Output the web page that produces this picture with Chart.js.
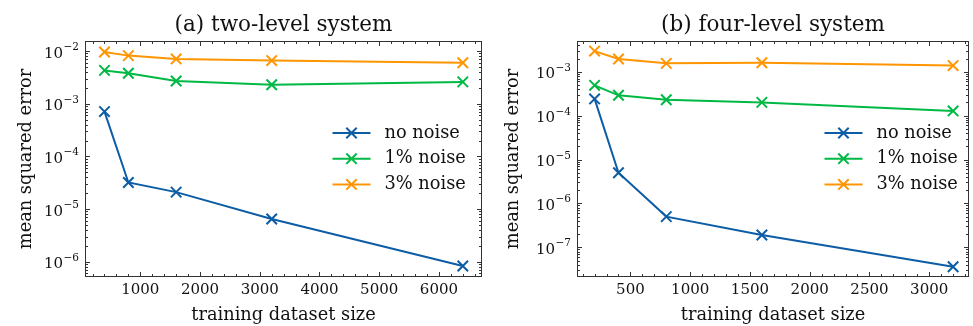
<!DOCTYPE html>
<html>
<head>
<meta charset="utf-8">
<script src="https://cdn.jsdelivr.net/npm/chart.js@4.4.1/dist/chart.umd.min.js"></script>
<style>
body { margin: 0; background: #fff; }
#wrap { position: relative; width: 973px; height: 326px; }
#wrap canvas { position: absolute; top: 0; }
</style>
</head>
<body>
<div id="wrap">
	<canvas id="chartA" width="487" height="326" style="left:0"></canvas>
	<canvas id="chartB" width="486" height="326" style="left:487px"></canvas>
</div>
<script>
/*
 * 数据:两个子图,三条曲线。
 */
var seriesLabels = ['no noise', '1% noise', '3% noise'];
var seriesColors = ['#0C5DA5', '#00B945', '#FF9500'];

var sizesA = [400, 800, 1600, 3200, 6400];
var noNoiseA = [7.1e-4, 3.2e-5, 2.1e-5, 6.5e-6, 8.3e-7];
var noise1A = [4.3e-3, 3.8e-3, 2.7e-3, 2.3e-3, 2.6e-3];
var noise3A = [9.6e-3, 8.2e-3, 7.1e-3, 6.6e-3, 6.0e-3];
var xTicksA = [1000, 2000, 3000, 4000, 5000, 6000];
var yTicksA = [1e-6, 1e-5, 1e-4, 1e-3, 1e-2];
var xLimA = [82, 6713];
var yLimA = [5.25e-7, 1.52e-2];

var sizesB = [200, 400, 800, 1600, 3200];
var noNoiseB = [2.4e-4, 5.0e-6, 5.0e-7, 1.9e-7, 3.6e-8];
var noise1B = [4.9e-4, 2.9e-4, 2.3e-4, 2.0e-4, 1.28e-4];
var noise3B = [2.95e-3, 1.95e-3, 1.55e-3, 1.6e-3, 1.38e-3];
var xTicksB = [500, 1000, 1500, 2000, 2500, 3000];
var yTicksB = [1e-7, 1e-6, 1e-5, 1e-4, 1e-3];
var xLimB = [57, 3329];
var yLimB = [2.16e-8, 4.88e-3];

var FONT = '"DejaVu Serif"';
var INK = '#111';

/*
 * 边框、向内刻度、y 轴标签(上标)以及图例。
 */
var sciFrame = {
	id : 'sciFrame',
	afterDatasetsDraw : function(chart, args, opts) {
		var ctx = chart.ctx, a = chart.chartArea;
		var xs = chart.scales.x, ys = chart.scales.y;
		var majors = xs.ticks.map(function(t) { return t.value; });
		var v, px, py, len, n, k;
		ctx.save();
		ctx.strokeStyle = '#333';
		ctx.lineWidth = 1;
		ctx.strokeRect(a.left, a.top, a.right - a.left, a.bottom - a.top);
		ctx.beginPath();
		for (v = Math.ceil(xs.min / opts.xMinor) * opts.xMinor; v <= xs.max; v += opts.xMinor) {
			px = Math.round(xs.getPixelForValue(v)) + 0.5;
			len = majors.indexOf(v) >= 0 ? 4.5 : 2.5;
			ctx.moveTo(px, a.bottom); ctx.lineTo(px, a.bottom - len);
			ctx.moveTo(px, a.top); ctx.lineTo(px, a.top + len);
		}
		var n0 = Math.floor(Math.log10(ys.min)), n1 = Math.ceil(Math.log10(ys.max));
		for (n = n0; n <= n1; n++) {
			for (k = 1; k < 10; k++) {
				v = k * Math.pow(10, n);
				if (v < ys.min || v > ys.max) continue;
				py = Math.round(ys.getPixelForValue(v)) + 0.5;
				len = k == 1 ? 4.5 : 2.5;
				ctx.moveTo(a.left, py); ctx.lineTo(a.left + len, py);
				ctx.moveTo(a.right, py); ctx.lineTo(a.right - len, py);
			}
		}
		ctx.stroke();

		// y 轴标签 10^n
		ctx.fillStyle = INK;
		ctx.textAlign = 'right';
		ctx.textBaseline = 'alphabetic';
		ys.ticks.forEach(function(t) {
			var y = ys.getPixelForValue(t.value);
			var e = Math.round(Math.log10(t.value));
			var sup = (e < 0 ? '\u2212' : '') + Math.abs(e);
			var xr = a.left - 6.5;
			ctx.font = '10.5px ' + FONT;
			var w = ctx.measureText(sup).width;
			ctx.fillText(sup, xr, y - 1);
			ctx.font = '15px ' + FONT;
			ctx.fillText('10', xr - w - 0.5, y + 6.5);
		});

		// 图例
		ctx.font = '17.8px ' + FONT;
		ctx.textAlign = 'left';
		ctx.textBaseline = 'middle';
		chart.data.datasets.forEach(function(ds, i) {
			var x0 = a.right - opts.legendRight;
			var y = a.top + opts.legendTop + i * 25.7;
			var cx = x0 + 19, r = 5.2;
			ctx.strokeStyle = ds.borderColor;
			ctx.lineWidth = 2;
			ctx.beginPath();
			ctx.moveTo(x0, y); ctx.lineTo(x0 + 38, y);
			ctx.moveTo(cx - r, y - r); ctx.lineTo(cx + r, y + r);
			ctx.moveTo(cx - r, y + r); ctx.lineTo(cx + r, y - r);
			ctx.stroke();
			ctx.fillStyle = INK;
			ctx.fillText(ds.label, x0 + 52, y);
		});
		ctx.restore();
	}
};

function makeChart(id, title, sizes, series, xTicks, yTicks, xLim, yLim, layoutOpts) {
	var datasets = series.map(function(vals, i) {
		return {
			label : seriesLabels[i],
			data : sizes.map(function(x, j) { return { x : x, y : vals[j] }; }),
			borderColor : seriesColors[i],
			backgroundColor : seriesColors[i],
			borderWidth : 2,
			pointStyle : 'crossRot',
			pointRadius : 7.4,
			pointBorderWidth : 2,
			pointBorderColor : seriesColors[i],
			tension : 0,
			fill : false,
			order : i
		};
	});
	return new Chart(document.getElementById(id), {
		type : 'line',
		data : { datasets : datasets },
		plugins : [ sciFrame ],
		options : {
			responsive : false,
			animation : false,
			events : [],
			layout : {
				autoPadding : false,
				padding : { left : 0, right : layoutOpts.padRight, top : 0, bottom : 0 }
			},
			plugins : {
				legend : { display : false },
				tooltip : { enabled : false },
				title : {
					display : true,
					text : title,
					fullSize : false,
					color : INK,
					font : { family : FONT, size : 21.5, weight : 'normal' },
					padding : { top : 12.5, bottom : 3.2 }
				},
				sciFrame : layoutOpts
			},
			scales : {
				x : {
					type : 'linear',
					min : xLim[0],
					max : xLim[1],
					afterBuildTicks : function(s) { s.ticks = xTicks.map(function(v) { return { value : v }; }); },
					afterFit : function(s) {
						s.height = 49.5;
						s.paddingLeft = 0;
						s.paddingRight = 0;
					},
					grid : { display : false, drawTicks : false },
					border : { display : false },
					ticks : {
						color : INK,
						font : { family : FONT, size : 15 },
						padding : 5,
						maxRotation : 0,
						autoSkip : false,
						callback : function(v) { return String(v); }
					},
					title : {
						display : true,
						text : 'training dataset size',
						color : INK,
						font : { family : FONT, size : 17.8 },
						padding : { top : 0, bottom : 0 }
					}
				},
				y : {
					type : 'logarithmic',
					min : yLim[0],
					max : yLim[1],
					afterBuildTicks : function(s) { s.ticks = yTicks.map(function(v) { return { value : v }; }); },
					afterFit : function(s) {
						s.width = layoutOpts.yWidth;
						s.paddingTop = 0;
						s.paddingBottom = 0;
					},
					grid : { display : false, drawTicks : false },
					border : { display : false },
					ticks : { display : false },
					title : {
						display : true,
						text : 'mean squared error',
						color : INK,
						font : { family : FONT, size : 17.8 },
						padding : { top : 16, bottom : 0 }
					}
				}
			}
		}
	});
}

makeChart('chartA', '(a) two-level system', sizesA, [ noNoiseA, noise1A, noise3A ], xTicksA, yTicksA, xLimA, yLimA,
	{ padRight : 5.5, yWidth : 85.5, xMinor : 200, legendRight : 149, legendTop : 91.5 });
makeChart('chartB', '(b) four-level system', sizesB, [ noNoiseB, noise1B, noise3B ], xTicksB, yTicksB, xLimB, yLimB,
	{ padRight : 4.5, yWidth : 90.5, xMinor : 100, legendRight : 144, legendTop : 91.5 });
</script>
</body>
</html>
